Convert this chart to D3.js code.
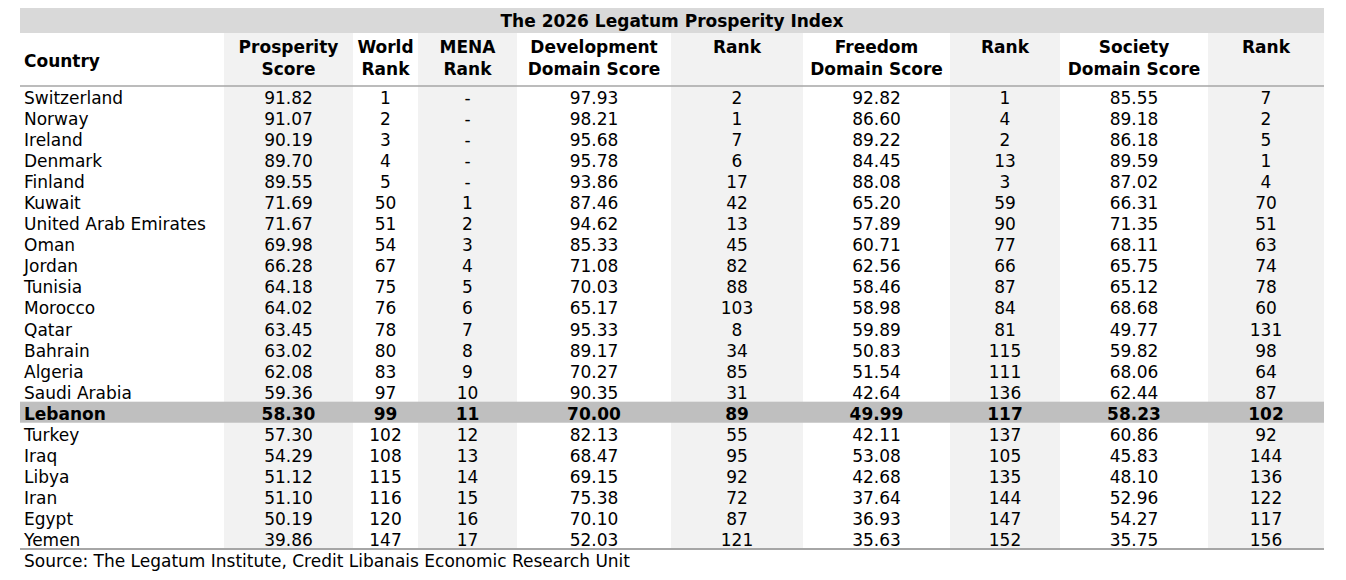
<!DOCTYPE html>
<html>
<head>
<meta charset="utf-8">
<script src="https://cdn.jsdelivr.net/npm/d3@7"></script>
<style>
  html, body { margin: 0; padding: 0; background: #fff; }
  svg { display: block; font-family: "DejaVu Sans", Verdana, sans-serif; }
</style>
</head>
<body>
<div id="chart"></div>
<script>
var countries = ["Switzerland", "Norway", "Ireland", "Denmark", "Finland", "Kuwait",
  "United Arab Emirates", "Oman", "Jordan", "Tunisia", "Morocco", "Qatar", "Bahrain",
  "Algeria", "Saudi Arabia", "Lebanon", "Turkey", "Iraq", "Libya", "Iran", "Egypt", "Yemen"];
var prosperityScore = [91.82, 91.07, 90.19, 89.70, 89.55, 71.69, 71.67, 69.98, 66.28, 64.18,
  64.02, 63.45, 63.02, 62.08, 59.36, 58.30, 57.30, 54.29, 51.12, 51.10, 50.19, 39.86];
var worldRank = [1, 2, 3, 4, 5, 50, 51, 54, 67, 75, 76, 78, 80, 83, 97, 99, 102, 108, 115, 116, 120, 147];
var menaRank = [null, null, null, null, null, 1, 2, 3, 4, 5, 6, 7, 8, 9, 10, 11, 12, 13, 14, 15, 16, 17];
var devScore = [97.93, 98.21, 95.68, 95.78, 93.86, 87.46, 94.62, 85.33, 71.08, 70.03, 65.17,
  95.33, 89.17, 70.27, 90.35, 70.00, 82.13, 68.47, 69.15, 75.38, 70.10, 52.03];
var devRank = [2, 1, 7, 6, 17, 42, 13, 45, 82, 88, 103, 8, 34, 85, 31, 89, 55, 95, 92, 72, 87, 121];
var freeScore = [92.82, 86.60, 89.22, 84.45, 88.08, 65.20, 57.89, 60.71, 62.56, 58.46, 58.98,
  59.89, 50.83, 51.54, 42.64, 49.99, 42.11, 53.08, 42.68, 37.64, 36.93, 35.63];
var freeRank = [1, 4, 2, 13, 3, 59, 90, 77, 66, 87, 84, 81, 115, 111, 136, 117, 137, 105, 135, 144, 147, 152];
var socScore = [85.55, 89.18, 86.18, 89.59, 87.02, 66.31, 71.35, 68.11, 65.75, 65.12, 68.68,
  49.77, 59.82, 68.06, 62.44, 58.23, 60.86, 45.83, 48.10, 52.96, 54.27, 35.75];
var socRank = [7, 2, 5, 1, 4, 70, 51, 63, 74, 78, 60, 131, 98, 64, 87, 102, 92, 144, 136, 122, 117, 156];

var headers = [["Country"], ["Prosperity", "Score"], ["World", "Rank"], ["MENA", "Rank"],
  ["Development", "Domain Score"], ["Rank"], ["Freedom", "Domain Score"], ["Rank"],
  ["Society", "Domain Score"], ["Rank"]];
var title = "The 2026 Legatum Prosperity Index";
var source = "Source: The Legatum Institute, Credit Libanais Economic Research Unit";
var highlight = "Lebanon";

var columns = [countries, prosperityScore, worldRank, menaRank, devScore, devRank,
  freeScore, freeRank, socScore, socRank];
var isScore = [false, true, false, false, true, false, true, false, true, false];

// layout
var width = 1346, height = 580;
var colEdges = [20, 224, 353, 418, 517, 671, 803, 950, 1060, 1208, 1324];
var fmt = d3.format(".2f");

var svg = d3.select("#chart").append("svg")
  .attr("width", width)
  .attr("height", height);

var y = d3.scaleBand()
  .domain(countries)
  .range([86, 549]);

// shaded columns (every other one after Country)
for (var c = 1; c < colEdges.length - 1; c += 2) {
  svg.append("rect")
    .attr("x", colEdges[c])
    .attr("y", 33)
    .attr("width", colEdges[c + 1] - colEdges[c])
    .attr("height", 549 - 33)
    .attr("fill", "#f2f2f2");
}

// title bar
svg.append("rect")
  .attr("x", colEdges[0]).attr("y", 8)
  .attr("width", colEdges[colEdges.length - 1] - colEdges[0]).attr("height", 25)
  .attr("fill", "#d9d9d9");
svg.append("text")
  .attr("x", (colEdges[0] + colEdges[colEdges.length - 1]) / 2)
  .attr("y", 26.5)
  .attr("text-anchor", "middle")
  .style("font-size", "17px").style("font-weight", "bold")
  .text(title);

// highlighted row band
svg.append("rect")
  .attr("x", colEdges[0]).attr("y", y(highlight))
  .attr("width", colEdges[colEdges.length - 1] - colEdges[0]).attr("height", y.bandwidth())
  .attr("fill", "#bfbfbf");

// headers
headers.forEach(function(h, i) {
  var t = svg.append("text")
    .style("font-size", "17px").style("font-weight", "bold")
    .attr("fill", "#000");
  if (i == 0) {
    t.attr("x", 24).attr("y", 67).text(h[0]);
  } else {
    var cx = (colEdges[i] + colEdges[i + 1]) / 2;
    t.attr("text-anchor", "middle");
    h.forEach(function(line, k) {
      t.append("tspan").attr("x", cx).attr("y", 53 + k * 21.5).text(line);
    });
  }
});

// rule lines
svg.append("line")
  .attr("x1", colEdges[0]).attr("x2", colEdges[colEdges.length - 1])
  .attr("y1", 86).attr("y2", 86)
  .attr("stroke", "#a6a6a6").attr("stroke-width", 1.5);
svg.append("line")
  .attr("x1", colEdges[0]).attr("x2", colEdges[colEdges.length - 1])
  .attr("y1", 549).attr("y2", 549)
  .attr("stroke", "#a6a6a6").attr("stroke-width", 2);

// body cells
countries.forEach(function(name, r) {
  var bold = name == highlight;
  columns.forEach(function(col, i) {
    var v = col[r];
    var txt = (v === null) ? "-" : (isScore[i] ? fmt(v) : String(v));
    var cell = svg.append("text")
      .attr("y", y(name) + 18)
      .style("font-size", "17px")
      .style("font-weight", bold ? "bold" : "normal")
      .attr("fill", "#000")
      .text(txt);
    if (i == 0) {
      cell.attr("x", 24);
    } else {
      cell.attr("x", (colEdges[i] + colEdges[i + 1]) / 2).attr("text-anchor", "middle");
    }
  });
});

// source note
svg.append("text")
  .attr("x", 24).attr("y", 567)
  .style("font-size", "17px")
  .attr("fill", "#000")
  .text(source);
</script>
</body>
</html>
